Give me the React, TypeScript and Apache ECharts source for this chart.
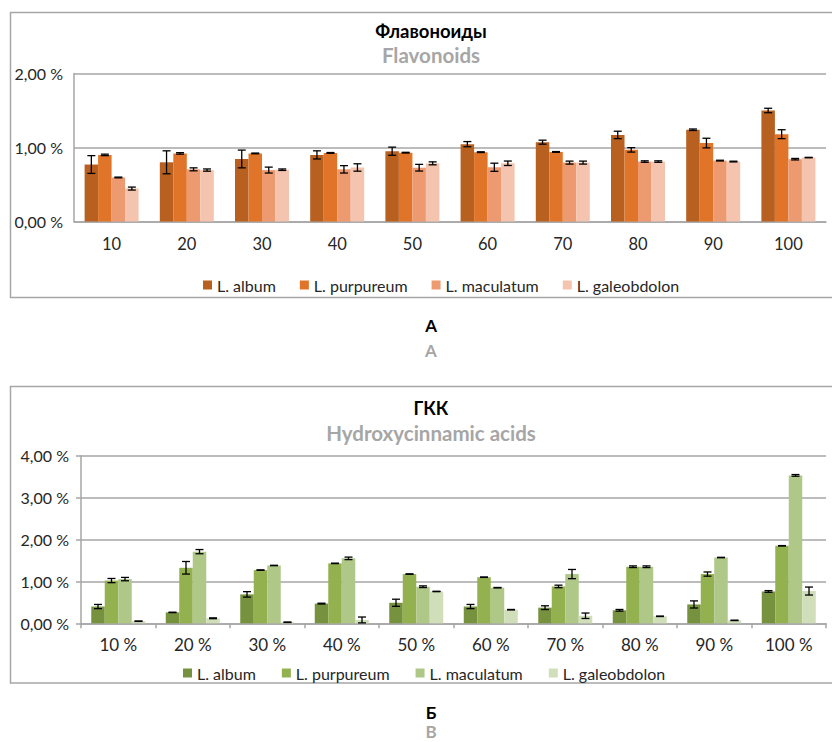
import React, { useEffect, useRef } from "react";
import * as echarts from "echarts";

const FONT = "Lato, 'Noto Sans', sans-serif";
const seriesNames = ["L. album", "L. purpureum", "L. maculatum", "L. galeobdolon"];

// Flavonoids (A)
const flavCategories = ["10", "20", "30", "40", "50", "60", "70", "80", "90", "100"];
const flavAlbum = [0.77, 0.8, 0.845, 0.9, 0.95, 1.045, 1.072, 1.17, 1.24, 1.5];
const flavAlbumErr = [0.12, 0.155, 0.12, 0.055, 0.055, 0.035, 0.027, 0.05, 0.01, 0.03];
const flavPurpureum = [0.9, 0.92, 0.92, 0.927, 0.93, 0.937, 0.94, 0.968, 1.06, 1.18];
const flavPurpureumErr = [0.01, 0.01, 0.005, 0.005, 0.005, 0.005, 0.005, 0.03, 0.065, 0.06];
const flavMaculatum = [0.595, 0.705, 0.695, 0.705, 0.727, 0.733, 0.796, 0.81, 0.823, 0.842];
const flavMaculatumErr = [0.005, 0.02, 0.04, 0.05, 0.045, 0.055, 0.02, 0.01, 0.005, 0.01];
const flavGaleobdolon = [0.445, 0.695, 0.7, 0.73, 0.786, 0.787, 0.796, 0.81, 0.81, 0.864];
const flavGaleobdolonErr = [0.02, 0.015, 0.01, 0.05, 0.02, 0.03, 0.02, 0.01, 0.005, 0.003];

// Hydroxycinnamic acids (B)
const hcaCategories = ["10 %", "20 %", "30 %", "40 %", "50 %", "60 %", "70 %", "80 %", "90 %", "100 %"];
const hcaAlbum = [0.4, 0.26, 0.69, 0.47, 0.49, 0.4, 0.373, 0.31, 0.45, 0.76];
const hcaAlbumErr = [0.05, 0.005, 0.065, 0.01, 0.085, 0.05, 0.045, 0.02, 0.085, 0.02];
const hcaPurpureum = [1.02, 1.325, 1.27, 1.43, 1.175, 1.1, 0.88, 1.35, 1.175, 1.85];
const hcaPurpureumErr = [0.05, 0.15, 0.005, 0.005, 0.005, 0.005, 0.03, 0.02, 0.05, 0.005];
const hcaMaculatum = [1.055, 1.71, 1.38, 1.55, 0.873, 0.85, 1.175, 1.35, 1.57, 3.53];
const hcaMaculatumErr = [0.04, 0.05, 0.005, 0.03, 0.02, 0.005, 0.11, 0.02, 0.005, 0.02];
const hcaGaleobdolon = [0.05, 0.12, 0.025, 0.08, 0.76, 0.325, 0.18, 0.167, 0.07, 0.77];
const hcaGaleobdolonErr = [0.005, 0.01, 0.005, 0.07, 0.005, 0.005, 0.065, 0.005, 0.005, 0.095];

const orangeColors = ["#B8601F", "#E07428", "#EE9A70", "#F5C4AF"];
const greenColors = ["#77923E", "#93B24F", "#AFC888", "#D0DEBA"];

const BAR_W = 13.5;
const GRAY = "#A6A6A6";
const TEXT = "#262626";

function fmt(v: number) {
  return v.toFixed(2).replace(".", ",") + " %";
}

function buildOption(cfg: any) {
  const errData: number[][] = [];
  cfg.values.forEach((arr: number[], s: number) => {
    arr.forEach((v, i) => errData.push([i, s, v, cfg.errors[s][i]]));
  });
  const bars = seriesNames.map((name, s) => ({
    type: "bar",
    name,
    data: cfg.values[s],
    barWidth: BAR_W,
    barGap: "0%",
    itemStyle: { color: cfg.colors[s] },
    z: 2,
  }));
  const errSeries = {
    type: "custom",
    name: "err",
    data: errData,
    encode: { x: 0, y: 2 },
    z: 5,
    renderItem: (params: any, api: any) => {
      const cat = api.value(0);
      const s = api.value(1);
      const v = api.value(2);
      const e = api.value(3);
      const c = api.coord([cat, v]);
      const hi = api.coord([cat, v + e]);
      const lo = api.coord([cat, v - e]);
      const x = c[0] + (s - 1.5) * BAR_W;
      const st = { stroke: "#000", lineWidth: 1.3 };
      return {
        type: "group",
        children: [
          { type: "line", shape: { x1: x, y1: hi[1], x2: x, y2: lo[1] }, style: st },
          { type: "line", shape: { x1: x - 4, y1: hi[1], x2: x + 4, y2: hi[1] }, style: st },
          { type: "line", shape: { x1: x - 4, y1: lo[1], x2: x + 4, y2: lo[1] }, style: st },
        ],
      };
    },
  };
  const txt = (text: string, y: number, color: string, size: number) => ({
    type: "text",
    x: 431,
    y,
    style: {
      text,
      textAlign: "center",
      textVerticalAlign: "middle",
      fill: color,
      font: `bold ${size}px ${FONT}`,
    },
  });
  return {
    animation: false,
    textStyle: { fontFamily: FONT },
    graphic: [
      {
        type: "rect",
        shape: { x: 10.5, y: cfg.border.y, width: 840, height: cfg.border.h },
        style: { fill: "none", stroke: GRAY, lineWidth: 1.5 },
        z: -1,
      },
      txt(cfg.title, cfg.titleY, "#000", cfg.titleSize),
      txt(cfg.subtitle, cfg.subtitleY, GRAY, 20.5),
      txt(cfg.cap1, cfg.cap1Y, "#000", 17),
      txt(cfg.cap2, cfg.cap2Y, GRAY, 17),
    ],
    grid: cfg.grid,
    legend: {
      data: seriesNames,
      left: cfg.legendLeft,
      top: cfg.legendTop,
      icon: "rect",
      itemWidth: 9,
      itemHeight: 9,
      itemGap: cfg.legendGap,
      textStyle: { fontSize: cfg.legendSize, color: TEXT, fontFamily: FONT },
    },
    xAxis: {
      type: "category",
      data: cfg.categories,
      axisLine: { lineStyle: { color: GRAY, width: 1.5 } },
      axisTick: { show: cfg.ticks, length: 5, lineStyle: { color: GRAY, width: 1.5 } },
      axisLabel: { fontSize: cfg.xSize, color: TEXT, margin: cfg.xLabelMargin, fontFamily: FONT },
    },
    yAxis: {
      type: "value",
      min: 0,
      max: cfg.max,
      interval: 1,
      axisLine: { show: true, lineStyle: { color: GRAY, width: 1.5 } },
      axisTick: { show: cfg.ticks, length: 5, lineStyle: { color: GRAY, width: 1.5 } },
      axisLabel: { formatter: fmt, fontSize: 16, color: TEXT, margin: cfg.yMargin, fontFamily: FONT },
      splitLine: { lineStyle: { color: GRAY, width: 1.5 } },
    },
    series: [...bars, errSeries],
  };
}

function ChartBox(props: { top: number; height: number; option: any }) {
  const ref = useRef<HTMLDivElement>(null);
  useEffect(() => {
    if (!ref.current) return;
    const chart = echarts.init(ref.current, null, { renderer: "svg" });
    chart.setOption(props.option);
    return () => chart.dispose();
  }, []);
  return (
    <div
      ref={ref}
      style={{ position: "absolute", left: 0, top: props.top, width: 832, height: props.height }}
    />
  );
}

export default function App() {
  const optA = buildOption({
    categories: flavCategories,
    values: [flavAlbum, flavPurpureum, flavMaculatum, flavGaleobdolon],
    errors: [flavAlbumErr, flavPurpureumErr, flavMaculatumErr, flavGaleobdolonErr],
    colors: orangeColors,
    max: 2,
    grid: { left: 74, right: 6, top: 73.5, bottom: 148.5 },
    legendLeft: 198,
    legendTop: 272,
    legendGap: 24,
    legendSize: 16,
    border: { y: 12.5, h: 285 },
    title: "Флавоноиды",
    titleSize: 18.5,
    titleY: 31,
    subtitle: "Flavonoids",
    subtitleY: 55,
    cap1: "А",
    cap1Y: 325,
    cap2: "A",
    cap2Y: 350,
    ticks: false,
    xLabelMargin: 14,
    xSize: 16.5,
    yMargin: 11,
  });
  const optB = buildOption({
    categories: hcaCategories,
    values: [hcaAlbum, hcaPurpureum, hcaMaculatum, hcaGaleobdolon],
    errors: [hcaAlbumErr, hcaPurpureumErr, hcaMaculatumErr, hcaGaleobdolonErr],
    colors: greenColors,
    max: 4,
    grid: { left: 81, right: 6, top: 85.7, bottom: 118.7 },
    legendLeft: 178,
    legendTop: 290,
    legendGap: 26,
    legendSize: 16,
    border: { y: 16.5, h: 296.5 },
    title: "ГКК",
    titleSize: 18,
    titleY: 38,
    subtitle: "Hydroxycinnamic acids",
    subtitleY: 63,
    cap1: "Б",
    cap1Y: 342,
    cap2: "B",
    cap2Y: 361,
    ticks: true,
    xLabelMargin: 13,
    xSize: 17,
    yMargin: 12,
  });
  return (
    <div style={{ position: "absolute", left: 0, top: 0, width: 832, height: 742, background: "#fff" }}>
      <ChartBox top={0} height={370} option={optA} />
      <ChartBox top={370} height={372} option={optB} />
    </div>
  );
}
